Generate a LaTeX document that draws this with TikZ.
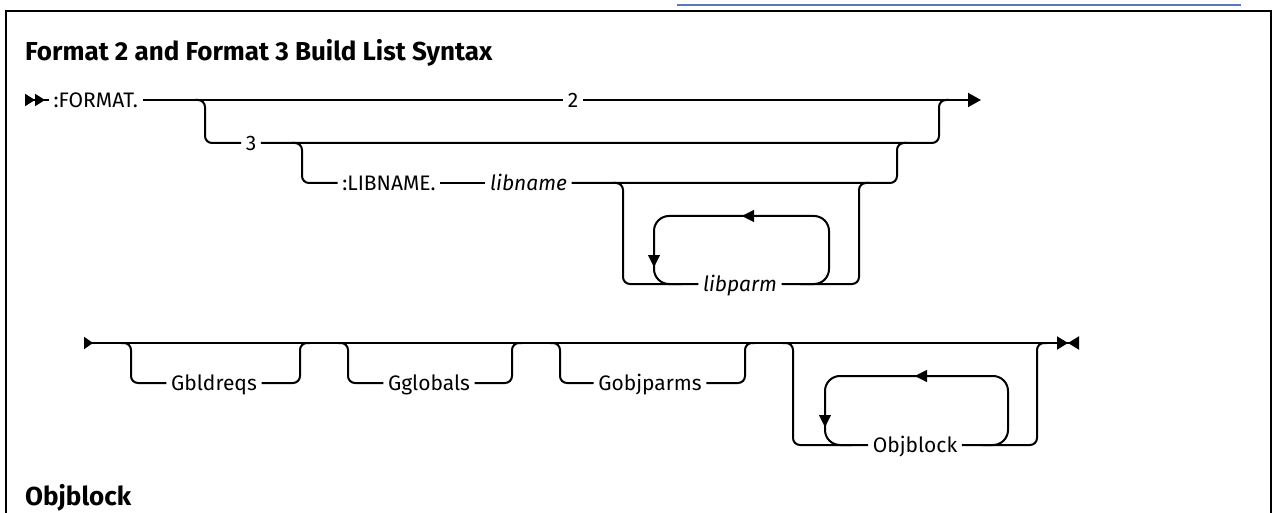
\documentclass[tikz,border=0pt]{standalone}
\usepackage{fontspec}
\setmainfont{Fira Sans}
\usetikzlibrary{arrows.meta,positioning}
\definecolor{linkblue}{RGB}{92,122,186}

\begin{document}
\begin{tikzpicture}[
  x=1pt, y=-1pt,
  every node/.style={font=\fontsize{21}{25}\selectfont, anchor=center,
    inner xsep=4.5pt, inner ysep=0pt, text height=14.5pt, text depth=0pt},
  ital/.style={font=\fontsize{21}{25}\selectfont\itshape},
  head/.style={font=\fontsize{26}{30}\selectfont\bfseries,
    anchor=base west, inner sep=0pt, text height=, text depth=},
  rail/.style={line width=2pt, rounded corners=7pt},
  ring/.style={line width=2pt, rounded corners=15pt},
  fwd/.style={-{Triangle[length=13pt,width=14pt]}},
  back/.style={-{Triangle[length=12pt,width=12pt]}}
]
  \useasboundingbox (0,0) rectangle (1274,513);

  % --- Rahmen und Ueberschriften ---
  \draw[linkblue, line width=1.5pt] (677,5) -- (1241,5);
  \draw[line width=2pt] (6,513) -- (6,11) -- (1271,11) -- (1271,513);
  \node[head] (title) at (25,61) {Format 2 and Format 3 Build List Syntax};
  \node[head] (objhead) at (25,505) {Objblock};

  % --- Zeile 1 ---
  \coordinate (s1) at (25,100);
  \coordinate (e1) at (981,100);
  \node[right=24pt of s1] (fmt) {:FORMAT.};
  \node (two) at (573,100) {2};
  \draw[rail, {Triangle[reversed,length=10pt,width=12pt]Triangle[reversed,length=10pt,width=12pt]}-] (s1) -- (fmt.west);
  \draw[rail] (fmt.east) -- (two.west);
  \draw[rail, fwd] (two.east) -- (e1);

  % Zweig 3
  \coordinate (d3) at (205,100);
  \coordinate (u3) at (939,100);
  \node (three) at (251,143) {3};
  \draw[rail] ([xshift=-10pt]d3) -- (d3) -- (d3 |- three) -- (three.west);
  \draw[rail] (three.east) -| (u3) -- ([xshift=10pt]u3);

  % Zweig :LIBNAME.
  \coordinate (d4) at (302,143);
  \coordinate (u4) at (897,143);
  \node (lib) at (389,183) {:LIBNAME.};
  \node[ital, right=45pt of lib] (libn) {libname};
  \draw[rail] ([xshift=-10pt]d4) -- (d4) -- (d4 |- lib) -- (lib.west);
  \draw[rail] (lib.east) -- (libn.west);
  \draw[rail] (libn.east) -| (u4) -- ([xshift=10pt]u4);

  % Zweig libparm mit Wiederholung
  \coordinate (d5) at (623,183);
  \coordinate (u5) at (859,183);
  \node[ital] (parm) at (740,284) {libparm};
  \draw[rail] ([xshift=-10pt]d5) -- (d5) -- (d5 |- parm) -- (parm.west);
  \draw[rail] (parm.east) -| (u5) -- ([xshift=10pt]u5);
  \coordinate (lpA) at (800,284);
  \coordinate (lpR) at (829,216);
  \coordinate (lpL) at (654,216);
  \coordinate (lpB) at (682,284);
  \draw[ring] (lpA) -| (lpR) -| (lpL |- lpB) -- (lpB);
  \draw[back] (762,216) -- (742,216);
  \draw[back] (654,245) -- (654,267);

  % --- Zeile 2 ---
  \coordinate (s2) at (84,343);
  \coordinate (e2) at (1079,343);
  \draw[rail, {Triangle[reversed,length=9pt,width=12pt]}-{Triangle[length=11pt,width=13pt]Triangle[reversed,length=11pt,width=13pt]}] (s2) -- (e2);

  % Gbldreqs
  \coordinate (d6) at (131,343);
  \coordinate (u6) at (300,343);
  \node (gb) at (214,383) {Gbldreqs};
  \draw[rail] ([xshift=-10pt]d6) -- (d6) -- (d6 |- gb) -- (gb.west);
  \draw[rail] (gb.east) -| (u6) -- ([xshift=10pt]u6);

  % Gglobals
  \coordinate (d7) at (348,343);
  \coordinate (u7) at (512,343);
  \node (gg) at (429,383) {Gglobals};
  \draw[rail] ([xshift=-10pt]d7) -- (d7) -- (d7 |- gg) -- (gg.west);
  \draw[rail] (gg.east) -| (u7) -- ([xshift=10pt]u7);

  % Gobjparms
  \coordinate (d8) at (560,343);
  \coordinate (u8) at (745,343);
  \node (gop) at (650,383) {Gobjparms};
  \draw[rail] ([xshift=-10pt]d8) -- (d8) -- (d8 |- gop) -- (gop.west);
  \draw[rail] (gop.east) -| (u8) -- ([xshift=10pt]u8);

  % Objblock mit Wiederholung
  \coordinate (d9) at (793,343);
  \coordinate (u9) at (1037,343);
  \node (ob) at (915,445) {Objblock};
  \draw[rail] ([xshift=-10pt]d9) -- (d9) -- (d9 |- ob) -- (ob.west);
  \draw[rail] (ob.east) -| (u9) -- ([xshift=10pt]u9);
  \coordinate (obA) at (982,445);
  \coordinate (obR) at (1008,376);
  \coordinate (obL) at (825,376);
  \coordinate (obB) at (852,445);
  \draw[ring] (obA) -| (obR) -| (obL |- obB) -- (obB);
  \draw[back] (935,376) -- (915,376);
  \draw[back] (825,405) -- (825,427);
\end{tikzpicture}
\end{document}
